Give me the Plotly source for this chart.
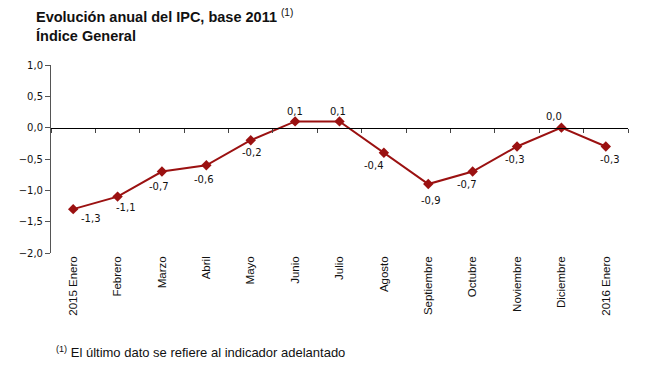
import plotly.graph_objects as go

categories = ["2015 Enero", "Febrero", "Marzo", "Abril", "Mayo", "Junio", "Julio",
              "Agosto", "Septiembre", "Octubre", "Noviembre", "Diciembre", "2016 Enero"]
values = [-1.3, -1.1, -0.7, -0.6, -0.2, 0.1, 0.1, -0.4, -0.9, -0.7, -0.3, 0.0, -0.3]
y_ticks = [1.0, 0.5, 0.0, -0.5, -1.0, -1.5, -2.0]
# label offsets in pixels (style only): right / down
label_dx = [18, 8, -3, -2, 1, 0, -2, -10, 3, -6, -2, -7, 4]
label_dy = [9, 11, 15, 14, 12, -10, -10, 13, 16, 13, 13, -11, 13]

color = "#9B1111"
fig = go.Figure()
fig.add_trace(go.Scatter(
    x=categories, y=values, mode="lines+markers",
    line=dict(color=color, width=2),
    marker=dict(symbol="diamond", size=8, color=color),
    cliponaxis=False, hoverinfo="skip", showlegend=False,
))
# invisible trace to carry the zero-line axis with boundary ticks
fig.add_trace(go.Scatter(x=categories, y=values, xaxis="x2", mode="markers",
                         marker=dict(opacity=0), hoverinfo="skip", showlegend=False))

annotations = [
    dict(x=c, y=v, xref="x", yref="y", text=f"{v:.1f}".replace(".", ","),
         showarrow=False, xshift=dx, yshift=-dy, xanchor="center", yanchor="middle",
         font=dict(family="DejaVu Sans", size=10, color="#111"))
    for c, v, dx, dy in zip(categories, values, label_dx, label_dy)
]
annotations += [
    dict(text="<b>Evolución anual del IPC, base 2011</b> <sup>(1)</sup><br><b>Índice General</b>",
         xref="paper", yref="paper", x=-0.03, y=1.32, xanchor="left", yanchor="top",
         showarrow=False, align="left",
         font=dict(family="Liberation Sans", size=14.5, color="#111")),
    dict(text="<sup>(1)</sup> El último dato se refiere al indicador adelantado",
         xref="paper", yref="paper", x=0.005, y=-0.528, xanchor="left", yanchor="middle",
         showarrow=False, align="left",
         font=dict(family="Liberation Sans", size=13, color="#111")),
]

fig.update_layout(
    width=646, height=369,
    margin=dict(l=43, r=26, t=57, b=124, autoexpand=False),
    plot_bgcolor="white", paper_bgcolor="white",
    separators=",.",
    font=dict(family="Liberation Sans", color="#111"),
    xaxis=dict(type="category", range=[-0.5, 12.5], showline=False, ticks="",
               showgrid=False, zeroline=False, tickangle=-90,
               tickfont=dict(family="Liberation Sans", size=11.5, color="#111")),
    xaxis2=dict(type="category", range=[-0.5, 12.5], overlaying="x", anchor="free",
                position=2/3, showline=True, linecolor="#000", linewidth=1,
                ticks="outside", ticklen=4, tickcolor="#444", tickson="boundaries",
                showticklabels=False, showgrid=False, zeroline=False),
    yaxis=dict(range=[-2.0, 1.0], tickvals=y_ticks, tickformat=".1f",
               showline=True, linecolor="#555", linewidth=1,
               ticks="outside", ticklen=5, tickcolor="#555",
               showgrid=False, zeroline=False,
               tickfont=dict(family="DejaVu Sans", size=10, color="#111")),
    annotations=annotations,
)
fig.write_html("out.html")
